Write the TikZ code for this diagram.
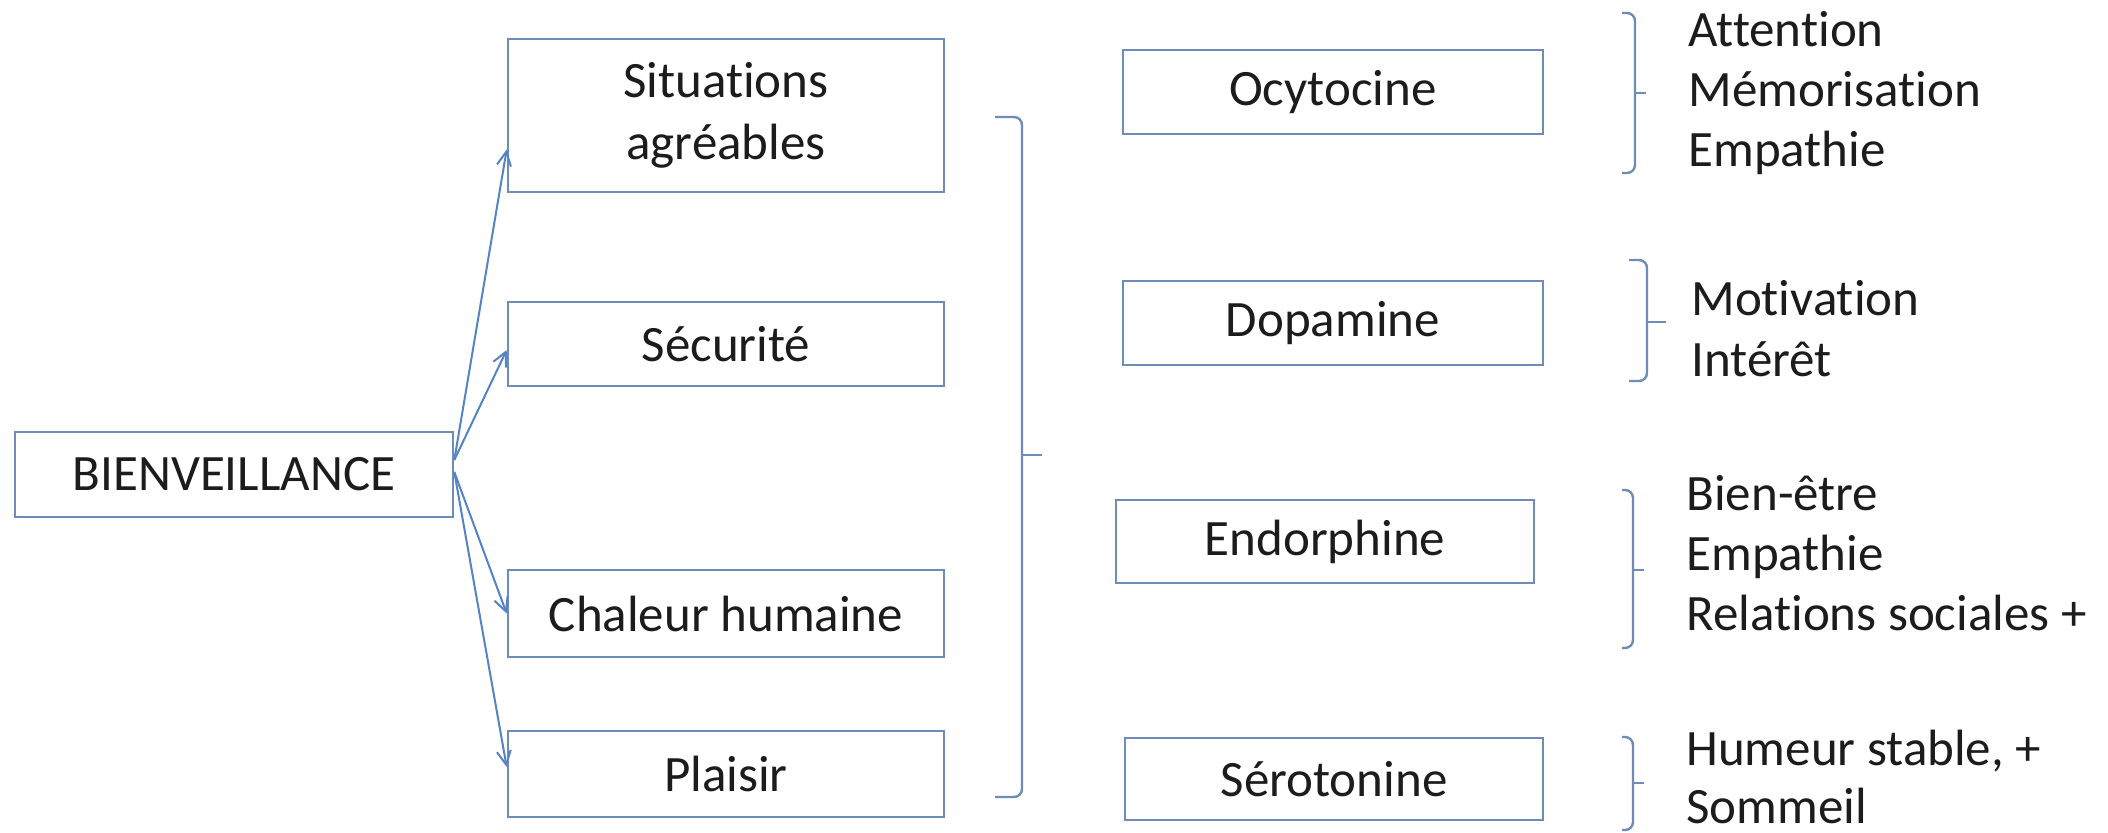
\documentclass[tikz,border=0pt]{standalone}
\usepackage{fontspec}
\setmainfont{Carlito}[Ligatures=NoCommon]
\usetikzlibrary{arrows.meta,calc}
\definecolor{boxc}{HTML}{6F8CB6}
\definecolor{arrc}{HTML}{5584C4}
\definecolor{txtc}{HTML}{1C1C1C}
\begin{document}
\begin{tikzpicture}[x=0.5pt,y=-0.5pt,
  box/.style={draw=boxc, line width=1.3pt, text=txtc, inner sep=0pt, align=center, font=\fontsize{25.5}{31}\selectfont},
  lbl/.style={anchor=base west, text=txtc, inner sep=0pt, font=\fontsize{25.5}{31}\selectfont},
  conn/.style={draw=arrc, line width=1pt, -{Straight Barb[length=7pt,width=7pt]}},
  brk/.style={draw=boxc, line width=1.2pt, rounded corners=4pt}]
\useasboundingbox (0,0) rectangle (2108,833);
\fill[white] (0,0) rectangle (2108,833);

% left column
\node[box, minimum width=219pt, minimum height=42.5pt] (bien) at (234,474.5) {BIENVEILLANCE};
\node[box, minimum width=218pt, minimum height=76.5pt] (sit) at (726,115.5) {Situations\\agréables};
\node[box, minimum width=218pt, minimum height=42pt] (sec) at (726,344) {Sécurité};
\node[box, minimum width=218pt, minimum height=43.5pt] (cha) at (726,613.5) {Chaleur humaine};
\node[box, minimum width=218pt, minimum height=43pt] (pla) at (726,774) {Plaisir};

% arrows
\draw[conn] ([yshift=7.25pt]bien.east) -- ([yshift=-17pt]sit.west);
\draw[conn] ([yshift=7.25pt]bien.east) -- ([yshift=-3pt]sec.west);
\draw[conn] ([yshift=1.25pt]bien.east) -- (cha.west);
\draw[conn] ([yshift=1.25pt]bien.east) -- ([yshift=3.5pt]pla.west);

% big bracket
\draw[brk] (995,117) -- (1022,117) -- (1022,797) -- (995,797);
\draw[draw=boxc, line width=1.2pt] (1022,455) -- (1042,455);

% right column
\node[box, minimum width=210pt, minimum height=42pt] (ocy) at (1333,92) {Ocytocine};
\node[box, minimum width=210pt, minimum height=42pt] (dop) at (1333,323) {Dopamine};
\node[box, minimum width=209pt, minimum height=41.5pt] (end) at (1325,541.5) {Endorphine};
\node[box, minimum width=209pt, minimum height=41pt] (ser) at (1334,779) {Sérotonine};

% small brackets
\draw[brk] (1622,13) -- (1635,13) -- (1635,173) -- (1622,173);
\draw[draw=boxc, line width=1.2pt] (1635,93) -- (1646,93);
\draw[brk] (1629,260) -- (1647,260) -- (1647,381) -- (1629,381);
\draw[draw=boxc, line width=1.2pt] (1647,322) -- (1666,322);
\draw[brk] (1622,490) -- (1633,490) -- (1633,648) -- (1622,648);
\draw[draw=boxc, line width=1.2pt] (1633,570) -- (1644,570);
\draw[brk] (1622,737) -- (1633,737) -- (1633,830) -- (1622,830);
\draw[draw=boxc, line width=1.2pt] (1633,783) -- (1644,783);

% effect labels
\node[lbl] (t1) at (1688,47) {Attention};
\node[lbl] (t2) at (1688,107) {Mémorisation};
\node[lbl] (t3) at (1688,167) {Empathie};
\node[lbl] (t4) at (1691,316) {Motivation};
\node[lbl] (t5) at (1691,377) {Intérêt};
\node[lbl] (t6) at (1686,510) {Bien-être};
\node[lbl] (t7) at (1686,570) {Empathie};
\node[lbl] (t8) at (1686,630) {Relations sociales +};
\node[lbl] (t9) at (1686,765) {Humeur stable, +};
\node[lbl] (t10) at (1686,823) {Sommeil};
\end{tikzpicture}
\end{document}
